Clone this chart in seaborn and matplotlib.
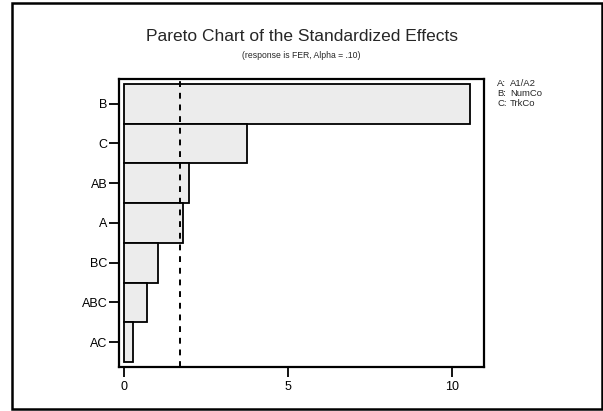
import seaborn as sns
import matplotlib.pyplot as plt
import matplotlib.patches as mpatches
import pandas as pd

terms = ["B", "C", "AB", "A", "BC", "ABC", "AC"]
effects = [10.55, 3.75, 1.99, 1.80, 1.03, 0.72, 0.27]
critical = 1.71
factor_keys = ["A:", "B:", "C:"]
factor_names = ["A1/A2", "NumCo", "TrkCo"]

df = pd.DataFrame({"term": terms, "effect": effects})

sns.set_theme(style="white")
plt.rcParams["font.family"] = ["Liberation Sans", "DejaVu Sans"]

fig = plt.figure(figsize=(6.03, 4.11), dpi=100)
ax = fig.add_axes([0.197, 0.107, 0.606, 0.701])

sns.barplot(data=df, x="effect", y="term", orient="h", color="#ececec",
            edgecolor="black", linewidth=1.3, width=1.0, saturation=1, ax=ax)

ax.axvline(critical, color="black", linestyle=(0, (3, 3)), linewidth=1.4)

ax.set_xlim(-0.15, 10.97)
ax.set_ylim(6.625, -0.625)
ax.set_xticks([0, 5, 10])
ax.set_xlabel("")
ax.set_ylabel("")
ax.tick_params(axis="x", pad=3)
ax.tick_params(axis="y", pad=1)
ax.tick_params(axis="both", which="major", direction="out", length=7, width=1.3,
               labelsize=9, colors="black", bottom=True, left=True)
for s in ax.spines.values():
    s.set_linewidth(1.6)
    s.set_color("black")

fig.text(0.5, 0.912, "Pareto Chart of the Standardized Effects", ha="center",
         va="center", fontsize=12.5)
fig.text(0.5, 0.866, "(response is FER, Alpha = .10)", ha="center",
         va="center", fontsize=6.2)

for i, (k, n) in enumerate(zip(factor_keys, factor_names)):
    y = 1 - (84 + i * 10) / 411
    fig.text(497 / 603, y, k, fontsize=6.8, va="center")
    fig.text(510 / 603, y, n, fontsize=6.8, va="center")

fig.patches.append(mpatches.Rectangle((12 / 603, 0.005), 590 / 603, 0.988,
                                      transform=fig.transFigure, fill=False,
                                      edgecolor="black", linewidth=1.8))

fig.savefig("out.png", dpi=100)
